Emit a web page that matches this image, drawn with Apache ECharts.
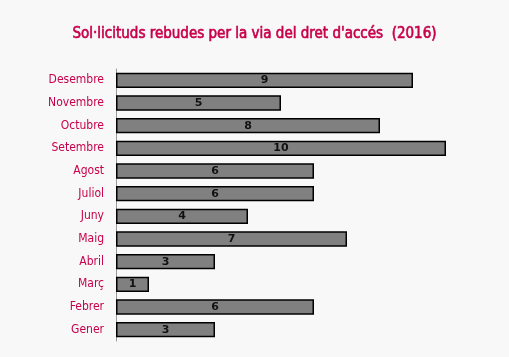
<!DOCTYPE html>
<html><head><meta charset="utf-8">
<script src="https://cdn.jsdelivr.net/npm/echarts@6/dist/echarts.min.js"></script>
<style>html,body{margin:0;padding:0;background:#f8f8f8}#c{width:509px;height:357px}</style>
</head><body><div id="c"></div>
<script>
const categories = ['Gener','Febrer','Març','Abril','Maig','Juny','Juliol','Agost','Setembre','Octubre','Novembre','Desembre'];
const values = [3,6,1,3,7,4,6,6,10,8,5,9];
const titleText = "Sol·licituds rebudes per la via del dret d'accés  (2016)";
const chart = echarts.init(document.getElementById('c'));
chart.setOption({
  backgroundColor: '#f8f8f8',
  animation: false,
  title: {text: titleText, left: 'center', top: 22, textStyle: {color: '#c8004a', fontSize: 15, fontWeight: 'normal', fontFamily: 'DejaVu Sans Condensed', textBorderColor: '#c8004a', textBorderWidth: 0.6}},
  grid: {left: 116, right: 63, top: 69, bottom: 16},
  xAxis: {type: 'value', min: 0, max: 10, show: false},
  yAxis: {type: 'category', data: categories,
    axisLine: {show: true, lineStyle: {color: '#999', width: 1}},
    axisTick: {show: false},
    axisLabel: {color: '#c8004a', fontSize: 12, fontFamily: 'DejaVu Sans Condensed', margin: 12}
  },
  series: [{type: 'bar', data: values, barCategoryGap: '32%',
    itemStyle: {color: '#808080', borderColor: '#000', borderWidth: 1.5},
    label: {show: true, position: 'inside', color: '#111', fontWeight: 'bold', fontSize: 11, fontFamily: 'DejaVu Sans'}
  }]
});
</script></body></html>
